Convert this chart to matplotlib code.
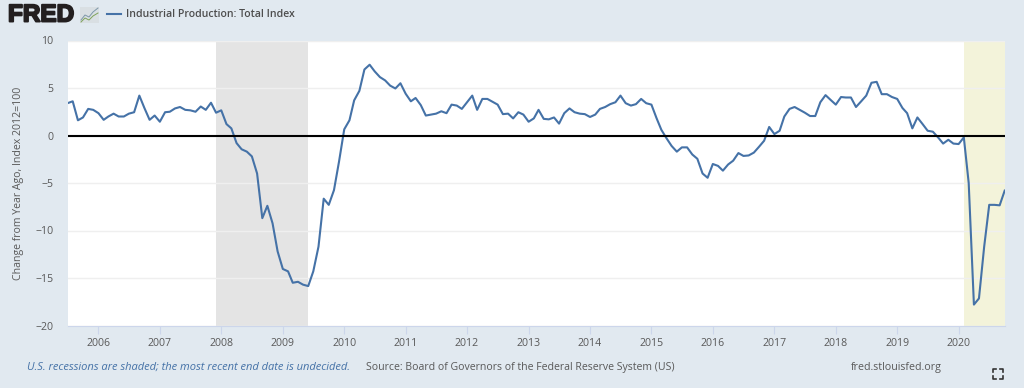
import pandas as pd
import matplotlib
matplotlib.use("Agg")
import matplotlib.pyplot as plt
import matplotlib.patheffects as pe
from matplotlib.lines import Line2D

plt.rcParams['font.family'] = ['Open Sans', 'DejaVu Sans']

# monthly percent change from year ago (Jul 2005 - Oct 2020)
values = [
    3.4, 3.6, 1.6, 1.9, 2.8, 2.7,
    2.35, 1.65, 2.0, 2.3, 2.0, 2.0, 2.3, 2.45, 4.2, 2.9, 1.65, 2.1,
    1.45, 2.45, 2.5, 2.85, 3.0, 2.7, 2.65, 2.5, 3.05, 2.7, 3.45, 2.4,
    2.65, 1.2, 0.75, -0.8, -1.45, -1.7, -2.2, -4.0, -8.7, -7.4, -9.25, -12.2,
    -14.05, -14.3, -15.5, -15.4, -15.7, -15.85, -14.3, -11.7, -6.65, -7.3, -5.75, -2.75,
    0.65, 1.6, 3.7, 4.7, 6.95, 7.45, 6.75, 6.15, 5.8, 5.25, 4.95, 5.5,
    4.4, 3.6, 3.95, 3.2, 2.1, 2.2, 2.3, 2.55, 2.35, 3.25, 3.15, 2.8,
    3.5, 4.2, 2.7, 3.85, 3.85, 3.55, 3.25, 2.25, 2.3, 1.8, 2.45, 2.2,
    1.45, 1.8, 2.7, 1.75, 1.7, 1.9, 1.25, 2.35, 2.85, 2.45, 2.3, 2.25,
    1.95, 2.2, 2.8, 3.0, 3.3, 3.5, 4.2, 3.4, 3.15, 3.3, 3.85, 3.4,
    3.25, 1.8, 0.6, -0.3, -1.1, -1.7, -1.25, -1.25, -2.0, -2.45, -4.0, -4.45,
    -3.0, -3.2, -3.7, -3.05, -2.65, -1.85, -2.15, -2.1, -1.8, -1.2, -0.55, 0.9,
    0.15, 0.5, 2.0, 2.8, 3.0, 2.7, 2.4, 2.05, 2.05, 3.5, 4.25, 3.75,
    3.25, 4.05, 4.0, 4.0, 3.0, 3.6, 4.2, 5.55, 5.65, 4.35, 4.35, 4.05,
    3.85, 2.9, 2.35, 0.75, 1.9, 1.2, 0.5, 0.4, -0.2, -0.85, -0.45, -0.85,
    -0.9, -0.2, -5.0, -17.8, -17.15, -11.7, -7.3, -7.3, -7.35, -5.8,
]
dates = pd.date_range("2005-07-01", periods=len(values), freq="MS")

year_labels = list(range(2006, 2021))
y_ticks = [-20, -15, -10, -5, 0, 5, 10]
recessions = [("2007-12-01", "2009-06-01"), ("2020-02-01", "2020-10-01")]
recession_colors = ["#e4e4e4", "#f3f3da"]

W, H = 1024, 388
BG = "#e1e9f0"
TXT = "#595959"
BLUE = "#4572a7"


def fx(px):
    return px / W


def fy(py):
    return 1 - py / H


fig = plt.figure(figsize=(W / 100, H / 100), dpi=100, facecolor=BG)
ax = fig.add_axes([fx(67.5), fy(325.5), fx(1004.7 - 67.5), (325.5 - 40.5) / H])
ax.set_facecolor("white")

for (start, end), col in zip(recessions, recession_colors):
    ax.axvspan(pd.Timestamp(start), pd.Timestamp(end), color=col, lw=0, zorder=1)

ax.plot(dates, values, color=BLUE, lw=1.5, zorder=3, solid_joinstyle="round")
ax.axhline(0, color="black", lw=1.5, zorder=4)

ax.set_xlim(dates[0], dates[-1])
ax.set_ylim(-20, 10)
ax.set_xticks([pd.Timestamp(f"{y}-01-01") for y in year_labels])
ax.set_xticklabels(year_labels)
ax.set_yticks(y_ticks)
ax.grid(axis="y", color="#efefef", lw=1, zorder=2)
ax.set_axisbelow(False)
ax.tick_params(axis="x", length=6, width=0.8, color="#ccd6eb", labelcolor=TXT, labelsize=7.6, pad=3)
ax.tick_params(axis="y", length=0, labelcolor=TXT, labelsize=7.6, pad=10)
for s in ["top", "right", "left"]:
    ax.spines[s].set_visible(False)
ax.spines["bottom"].set_color("#ccd6eb")
ax.spines["bottom"].set_linewidth(0.8)

fig.text(fx(19), fy(183), "Change from Year Ago, Index 2012=100", rotation=90,
         ha="center", va="center", color=TXT, fontsize=7.6)

# header
fig.text(fx(8), fy(15), "FRED", ha="left", va="center", color="#231f20", fontsize=17.5,
         fontweight="bold", family=["Liberation Sans", "DejaVu Sans"],
         path_effects=[pe.withStroke(linewidth=1.4, foreground="#231f20")])
fig.add_artist(plt.Rectangle((fx(80), fy(23)), 19 / W, 16 / H, color="#d9dfe3", lw=0,
                             transform=fig.transFigure))
fig.add_artist(Line2D([fx(81), fx(85), fx(89), fx(93), fx(98)], [fy(20), fy(15), fy(17), fy(12), fy(8)],
                      color="#7d97a8", lw=0.7))
fig.add_artist(Line2D([fx(81), fx(85), fx(89), fx(93), fx(98)], [fy(22), fy(18), fy(20), fy(16), fy(13)],
                      color="#7fa35a", lw=0.7))
fig.add_artist(Line2D([fx(107), fx(120.5)], [fy(14), fy(14)], color=BLUE, lw=1.5))
fig.text(fx(126), fy(14.5), "Industrial Production: Total Index", ha="left", va="center",
         color="#4d4d4d", fontsize=7.6, fontweight="semibold")

# footer
fig.text(fx(27), fy(367.5), "U.S. recessions are shaded; the most recent end date is undecided.",
         ha="left", va="center", color=BLUE, fontsize=8.05, style="italic")
fig.text(fx(366), fy(367.5), "Source: Board of Governors of the Federal Reserve System (US)",
         ha="left", va="center", color=TXT, fontsize=7.6)
fig.text(fx(851), fy(367.5), "fred.stlouisfed.org", ha="left", va="center", color=TXT, fontsize=7.65)

# expand icon
x0, x1, y0, y1 = 992.5, 1002.5, 369, 379
for cx, cy, dx, dy in [(x0, y0, 3, 3), (x1, y0, -3, 3), (x0, y1, 3, -3), (x1, y1, -3, -3)]:
    fig.add_artist(Line2D([fx(cx + dx), fx(cx), fx(cx)], [fy(cy), fy(cy), fy(cy + dy)],
                          color="#333333", lw=1.2))

fig.savefig("out.png", dpi=100, facecolor=BG)
